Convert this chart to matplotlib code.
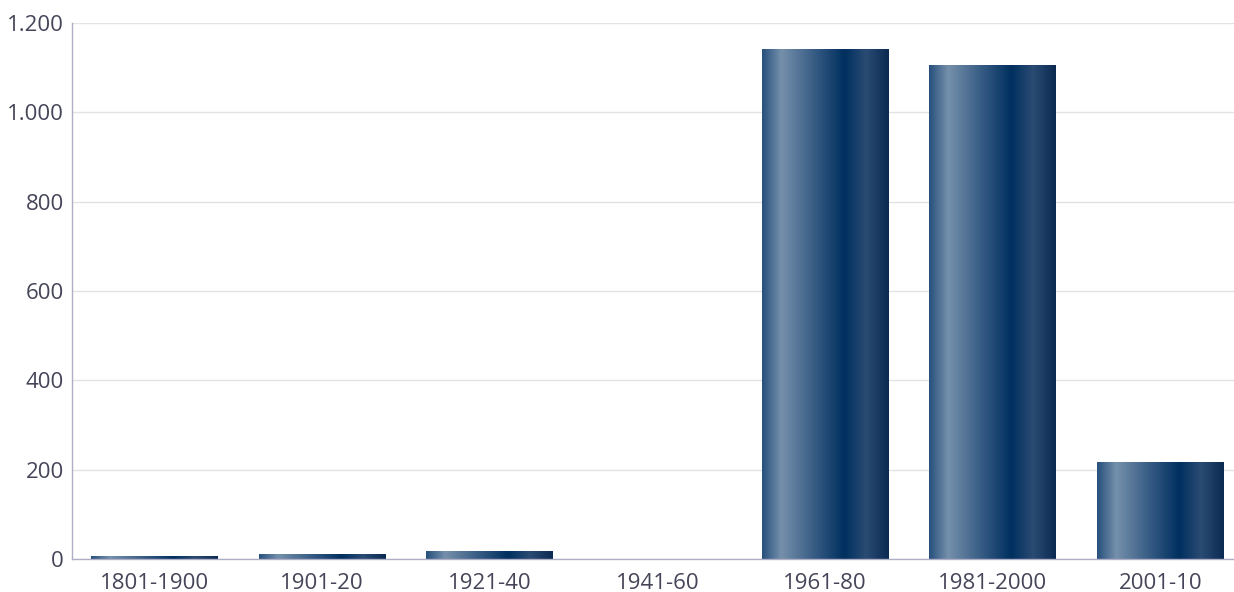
import numpy as np
import matplotlib.pyplot as plt
from matplotlib.colors import LinearSegmentedColormap
from matplotlib.ticker import FuncFormatter

# Data
periods = ['1801-1900', '1901-20', '1921-40', '1941-60', '1961-80', '1981-2000', '2001-10']
values = [5, 9, 17, 0, 1140, 1105, 215]

plt.rcParams['font.family'] = ['Open Sans', 'DejaVu Sans']

fig = plt.figure(figsize=(12.34, 5.92), dpi=100)
ax = fig.add_axes([72 / 1234, 33 / 592, 1162 / 1234, 536 / 592])

# Horizontal "metallic" gradient used on each bar
grad = LinearSegmentedColormap.from_list('bar_grad', [
    (0.0, '#27507d'), (0.15, '#7590ab'), (0.40, '#3a5e86'),
    (0.65, '#00305f'), (0.82, '#2a4b73'), (1.0, '#0a2a52')])
strip = np.linspace(0, 1, 256).reshape(1, -1)

x = np.arange(len(periods))
bars = ax.bar(x, values, width=0.757, color='none', edgecolor='none', zorder=2)
for b in bars:
    h = b.get_height()
    if h <= 0:
        continue
    x0 = b.get_x()
    ax.imshow(strip, cmap=grad, aspect='auto', interpolation='bilinear',
              extent=(x0, x0 + b.get_width(), 0, h), zorder=2)

ax.set_xlim(-0.492, len(periods) - 0.562)
ax.set_ylim(0, 1200)
ax.set_yticks(range(0, 1201, 200))
ax.yaxis.set_major_formatter(FuncFormatter(lambda v, p: f'{int(v):,}'.replace(',', '.')))
ax.set_xticks(x)
ax.set_xticklabels(periods)

ax.grid(axis='y', color='#e3e3e3', linewidth=1, zorder=0)
ax.set_axisbelow(True)
for s in ['top', 'right']:
    ax.spines[s].set_visible(False)
for s in ['left', 'bottom']:
    ax.spines[s].set_color('#aeaec6')
    ax.spines[s].set_linewidth(1)

ax.tick_params(axis='both', length=0, labelsize=16, labelcolor='#454559')
ax.tick_params(axis='x', pad=10)
ax.tick_params(axis='y', pad=6)

fig.savefig('out.png', dpi=100)
